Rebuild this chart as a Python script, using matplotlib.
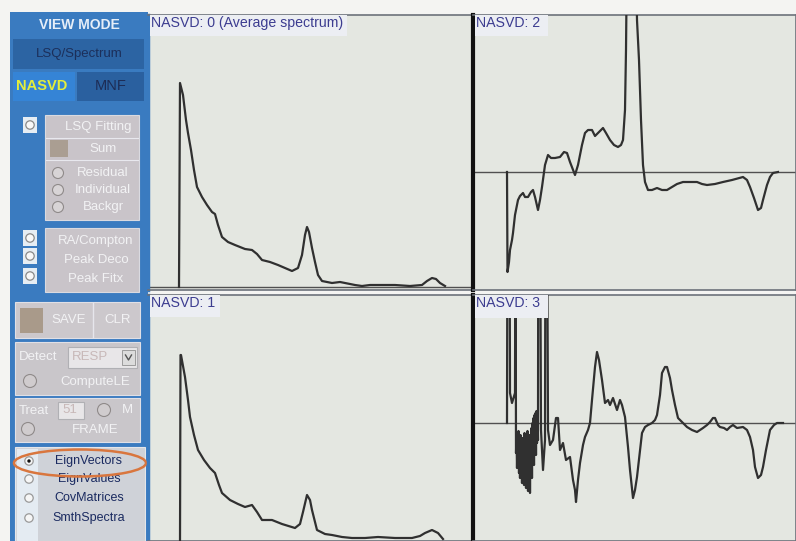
import matplotlib
matplotlib.use("Agg")
import matplotlib.pyplot as plt
from matplotlib.patches import Rectangle, Ellipse, Circle

plt.rcParams['font.family'] = ['Liberation Sans', 'DejaVu Sans']

# ---------------- data (channel, amplitude) ----------------
nasvd0_ch = [0, 1, 4, 7, 9, 12, 15, 18, 23, 28, 33, 36, 39, 43, 49, 56, 66, 73, 78, 83, 91, 99,
             106, 113, 119, 123, 126, 128, 130, 133, 136, 139, 143, 153, 161, 166, 176, 183, 191,
             199, 216, 231, 243, 248, 253, 257, 261, 266]
nasvd0_val = [0, 204, 192, 167, 154, 137, 117, 100, 90, 82, 75, 73, 62, 50, 45, 42, 38, 37, 33, 27,
              25, 22, 19, 16, 19, 32, 52, 60, 55, 39, 25, 12, 6, 4, 5, 4, 2, 1, 2, 2, 2, 1, 2, 6, 9,
              8, 4, 1]

nasvd1_ch = [0, 0.5, 1, 5, 8, 10, 14, 18, 24, 30, 35, 39, 42, 50, 58, 65, 72, 77, 82, 92, 102, 115,
             120, 123, 127, 130, 132, 137, 145, 152, 162, 172, 185, 198, 215, 232, 240, 245, 252,
             258, 263]
nasvd1_val = [0, 188, 188, 166, 143, 126, 108, 93, 83, 75, 70, 58, 50, 43, 39, 36, 38, 31, 23, 23,
              19, 15, 19, 31, 48, 43, 33, 13, 9, 8, 6, 5, 5, 6, 5, 5, 7, 10, 13, 10, 4]

nasvd2_ch = [0, 0.5, 2, 3, 5, 6, 8, 11, 13, 16, 18, 21, 24, 26, 28, 31, 33, 35, 38, 41, 44, 48, 53,
             57, 60, 63, 68, 71, 75, 78, 81, 85, 88, 91, 96, 99, 103, 107, 111, 114, 116, 118, 119,
             120, 129, 130, 132, 134, 136, 138, 141, 145, 150, 155, 160, 165, 170, 176, 183, 190,
             195, 200, 208, 216, 225, 236, 240, 243, 247, 251, 254, 256, 260, 263, 266, 271]
nasvd2_val = [0, -100, -90, -78, -68, -61, -43, -28, -24, -21, -25, -25, -20, -18, -25, -38, -28,
              -15, 7, 17, 14, 14, 15, 20, 19, 10, -3, 7, 27, 39, 42, 42, 36, 39, 44, 39, 32, 27, 25,
              27, 32, 62, 122, 222, 222, 152, 112, 52, 7, -10, -18, -18, -16, -18, -18, -15, -12,
              -10, -10, -10, -12, -13, -12, -10, -8, -5, -8, -15, -26, -38, -36, -28, -13, -5, -1, 0]

nasvd3_ch = [0, 0.5, 2.5, 3, 5, 8, 8.5,
             9.0, 9.5, 10, 10.5, 11, 11.5, 12, 12.5, 13, 13.5, 14, 14.5, 15, 15.5, 16, 16.5, 17,
             17.5, 18, 18.5, 19, 19.5, 20, 20.5, 21, 21.5, 22, 22.5, 23, 23.5, 24, 24.5, 25, 25.5,
             26, 26.5, 27, 27.5, 28, 28.5, 29, 29.5, 30, 30.5, 31,
             31.3, 33, 34, 36, 38, 38.5, 40, 41, 43, 46, 49, 51, 53, 56, 59, 63, 66, 68, 69, 71, 73,
             76, 78, 81, 83, 85, 88, 90, 92, 95, 98, 101, 103, 106, 110, 113, 115, 118, 121, 123,
             126, 128, 130, 133, 135, 138, 141, 145, 148, 150, 153, 155, 158, 160, 163, 165, 168,
             171, 175, 180, 185, 190, 193, 196, 200, 203, 206, 208, 211, 213, 217, 220, 223, 226,
             230, 236, 240, 243, 246, 248, 251, 254, 256, 259, 263, 267, 270, 276]
nasvd3_val = [0, 250, 250, 30, 20, 30, 250,
              -30, -10, -45, -15, -40, -8, -50, -20, -55, -12, -48, -25, -60, -15, -42, -20, -62,
              -10, -50, -18, -65, -22, -45, -8, -68, -20, -58, -12, -70, -18, -40, -5, -55, 0, -35,
              5, -42, 8, -28, 10, -32, 12, -20, 8, -17,
              250, 250, -7, -47, -17, 250, 250, -7, -22, -17, 5, 5, -27, -20, -37, -34, -57, -67,
              -79, -57, -40, -22, -14, -7, 0, 23, 56, 71, 63, 43, 20, 23, 18, 25, 13, 23, 18, 6,
              -24, -47, -75, -67, -54, -27, -10, -4, -2, 0, 3, 8, 28, 50, 56, 56, 45, 33, 18, 5, 1,
              -4, -7, -9, -7, -5, -2, 1, 5, 5, -2, -4, -5, -7, -4, -2, -5, -4, -7, -14, -27, -44,
              -55, -52, -44, -27, -7, -2, 0, 0]

titles = ['NASVD: 0 (Average spectrum)', 'NASVD: 2', 'NASVD: 1', 'NASVD: 3']
menu_items = ['EignVectors', 'EignValues', 'CovMatrices', 'SmthSpectra']

W, H = 796, 541
fig = plt.figure(figsize=(W / 100, H / 100), dpi=100)
fig.patch.set_facecolor('#f4f4f2')

# ---------------- left UI panel (pixel layout) ----------------
ui = fig.add_axes([0, 0, 1, 1])
ui.set_xlim(0, W)
ui.set_ylim(H, 0)
ui.axis('off')


def rect(x0, y0, x1, y1, fc, ec='none', lw=0, z=1):
    ui.add_patch(Rectangle((x0, y0), x1 - x0, y1 - y0, fc=fc, ec=ec, lw=lw, zorder=z))


def txt(x, y, s, color='#f2f2f4', size=9, weight='normal', ha='center'):
    ui.text(x, y, s, color=color, fontsize=size, fontweight=weight, ha=ha, va='center', zorder=5)


def radio(x, y, sel=False):
    rect(x - 7, y - 8, x + 7, y + 8, '#e6edf3', z=3)
    ui.add_patch(Circle((x, y), 4.2, fc='#f8f8f8', ec='#8a8a8a', lw=0.9, zorder=4))
    if sel:
        ui.add_patch(Circle((x, y), 1.7, fc='#111111', ec='none', zorder=5))


rect(10, 12, 148, H, '#3a7bc0')
txt(79, 25, 'VIEW MODE', color='#e6eef8', size=10, weight='bold')
rect(13, 39, 144, 69, '#2c64a3', z=2)
txt(79, 54, 'LSQ/Spectrum', color='#1c2f5a', size=9.5)
rect(13, 72, 75, 101, '#3584d6', z=2)
txt(42, 86, 'NASVD', color='#e4ee3a', size=10.5, weight='bold')
rect(77, 72, 144, 101, '#2a609f', z=2)
txt(111, 86, 'MNF', color='#1d2c55', size=10.5)

# group 1
radio(30, 125)
rect(45, 115, 139, 220, '#c9c4c9', ec='#dadae0', lw=0.8, z=2)
txt(98, 127, 'LSQ Fitting', size=9.5)
ui.plot([46, 138], [138, 138], color='#e8e8ee', lw=0.8, zorder=3)
rect(50, 140, 68, 157, '#aa9e92', z=3)
txt(103, 149, 'Sum', size=9.5)
ui.plot([46, 138], [160, 160], color='#e8e8ee', lw=0.8, zorder=3)
for yy, s in zip([173, 190, 207], ['Residual', 'Individual', 'Backgr']):
    ui.add_patch(Circle((58, yy), 5.5, fc='#d8d4d6', ec='#8f8a8a', lw=0.8, zorder=3))
    txt(103, yy, s, size=9.5)

# group 2
for yy in [238, 256, 276]:
    radio(30, yy, False)
rect(45, 228, 139, 292, '#c9c4c9', ec='#dadae0', lw=0.8, z=2)
txt(96, 241, 'RA/Compton', size=9.5)
txt(96, 260, 'Peak Deco', size=9.5)
txt(96, 279, 'Peak Fitx', size=9.5)

# SAVE / CLR
rect(15, 302, 140, 338, '#ccc8cc', ec='#e0e0e6', lw=0.8, z=2)
rect(20, 308, 43, 333, '#a99a8a', z=3)
txt(69, 320, 'SAVE', size=9.5)
ui.plot([93, 93], [303, 337], color='#e6e6ec', lw=1, zorder=3)
txt(118, 320, 'CLR', size=9.5)

# Detect
rect(15, 342, 140, 395, '#c9c6ca', ec='#e0e0e6', lw=0.8, z=2)
txt(38, 357, 'Detect', size=9.5)
rect(68, 347, 137, 368, '#e8e6e8', ec='#b0b0b4', lw=0.8, z=3)
txt(90, 357, 'RESP', color='#c8b8b8', size=9.5)
rect(122, 350, 135, 365, '#dcdcdc', ec='#909090', lw=0.6, z=4)
ui.plot([125.5, 128.5, 131.5], [355, 360, 355], color='#555555', lw=1, zorder=5)
ui.add_patch(Circle((30, 381), 6.5, fc='#d0ccce', ec='#8f8a8a', lw=0.8, zorder=3))
txt(95, 382, 'ComputeLE', size=9.5)

# Treat
rect(15, 398, 140, 442, '#c9c6ca', ec='#e0e0e6', lw=0.8, z=2)
txt(34, 411, 'Treat', size=9.5)
rect(58, 402, 84, 419, '#e8e6e8', ec='#b0b0b4', lw=0.8, z=3)
txt(70, 410, '51', color='#c8b8b8', size=9.5)
ui.add_patch(Circle((104, 410), 6.5, fc='#d0ccce', ec='#8f8a8a', lw=0.8, zorder=3))
txt(127, 410, 'M', size=9.5)
ui.add_patch(Circle((28, 429), 6.5, fc='#d0ccce', ec='#8f8a8a', lw=0.8, zorder=3))
txt(95, 430, 'FRAME', size=9.5)

# bottom list
rect(15, 447, 145, H, '#cfd2d8', ec='#e4e6ea', lw=0.8, z=2)
rect(17, 449, 38, H, '#e4ebf2', z=3)
for i, (yy, s) in enumerate(zip([461, 479, 498, 518], menu_items)):
    ui.add_patch(Circle((29, yy), 4.2, fc='#f6f6f6', ec='#9a9a9a', lw=0.9, zorder=4))
    if i == 0:
        ui.add_patch(Circle((29, yy), 1.7, fc='#111111', ec='none', zorder=5))
    txt(89, yy, s, color='#1a2a60', size=9)
ui.add_patch(Ellipse((80, 463), 132, 27, fc='none', ec='#d9763e', lw=1.8, zorder=6))

# ---------------- plot panels ----------------
def panel(x0, y0, x1, y1):
    return fig.add_axes([x0 / W, 1 - y1 / H, (x1 - x0) / W, (y1 - y0) / H])


bg = '#e4e7e1'
line_c = '#303030'
label_c = '#3c3c90'

specs = [
    # (pixel box, xlim, ylim, x, y, title, zero-line, left spine style)
    ((148, 15, 473, 290), (-31, 294), (-3, 272), nasvd0_ch, nasvd0_val, titles[0], True, 'blue'),
    ((473, 15, 796, 290), (-34, 289), (-118, 157), nasvd2_ch, nasvd2_val, titles[1], True, 'dark'),
    ((148, 295, 473, H), (-32, 293), (2, 248), nasvd1_ch, nasvd1_val, titles[2], False, 'blue'),
    ((473, 295, 796, H), (-34, 289), (-118, 128), nasvd3_ch, nasvd3_val, titles[3], True, 'dark'),
]
label_boxes = [(0.006, 0.925, 0.605, 0.075), (0.006, 0.925, 0.225, 0.075),
               (0.006, 0.91, 0.215, 0.09), (0.006, 0.905, 0.225, 0.095)]

for (box, xl, yl, xs, ys, title, zero, lstyle), lb in zip(specs, label_boxes):
    ax = panel(*box)
    ax.set_facecolor(bg)
    ax.set_xlim(*xl)
    ax.set_ylim(*yl)
    ax.set_xticks([])
    ax.set_yticks([])
    for sp in ax.spines.values():
        sp.set_color('#6c727a')
        sp.set_linewidth(1.2)
    if lstyle == 'blue':
        ax.spines['left'].set_color('#3a7bc0')
        ax.spines['left'].set_linewidth(2.5)
    else:
        ax.spines['left'].set_color('#111111')
        ax.spines['left'].set_linewidth(3)
    if zero:
        ax.axhline(0, color='#505050', lw=1.0, zorder=2)
    ax.plot(xs, ys, color=line_c, lw=1.6, zorder=3)
    ax.add_patch(Rectangle((lb[0], lb[1]), lb[2], lb[3], transform=ax.transAxes,
                           fc='#eceef3', ec='none', zorder=4))
    ax.text(0.008, 0.997, title, transform=ax.transAxes, ha='left', va='top',
            color=label_c, fontsize=10.2, zorder=5)

fig.savefig('out.png', dpi=100, facecolor=fig.get_facecolor())
